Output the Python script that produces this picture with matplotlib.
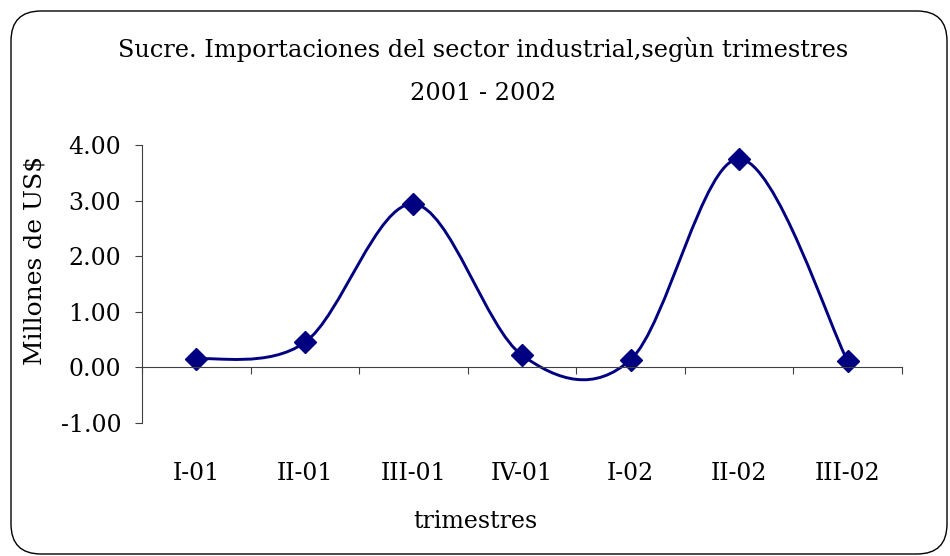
import numpy as np
import matplotlib.pyplot as plt
from matplotlib.path import Path
from matplotlib.patches import PathPatch, FancyBboxPatch
from matplotlib.transforms import IdentityTransform

trimestres = ["I-01", "II-01", "III-01", "IV-01", "I-02", "II-02", "III-02"]
importaciones = [0.15, 0.45, 2.94, 0.22, 0.14, 3.75, 0.11]  # millones de US$

plt.rcParams['font.family'] = ['DejaVu Serif']
navy = '#000080'

fig = plt.figure(figsize=(9.5, 5.56), dpi=100)
ax = fig.add_axes([0.1495, 0.2392, 0.8, 0.5])

# smoothed line like Excel (bezier through the points)
x = np.arange(len(importaciones), dtype=float)
y = np.array(importaciones)
px = np.concatenate([[x[0]], x, [x[-1]]])
py = np.concatenate([[y[0]], y, [y[-1]]])
verts = [(x[0], y[0])]
codes = [Path.MOVETO]
for i in range(len(x) - 1):
    j = i + 1
    c1 = (px[j] + (px[j + 1] - px[j - 1]) / 6, py[j] + (py[j + 1] - py[j - 1]) / 6)
    c2 = (px[j + 1] - (px[j + 2] - px[j]) / 6, py[j + 1] - (py[j + 2] - py[j]) / 6)
    verts += [c1, c2, (x[j], y[j])]
    codes += [Path.CURVE4] * 3
ax.add_patch(PathPatch(Path(verts, codes), facecolor='none', edgecolor=navy, lw=2.1))
ax.plot(x, y, linestyle='none', marker='D', markersize=11, color=navy)

ax.set_xlim(-0.5, 6.5)
ax.set_ylim(-1, 4)
for s in ['top', 'right']:
    ax.spines[s].set_visible(False)
ax.spines['bottom'].set_position(('data', 0))
for s in ['left', 'bottom']:
    ax.spines[s].set_color('#404040')
    ax.spines[s].set_linewidth(0.8)

ax.set_yticks([-1, 0, 1, 2, 3, 4])
ax.set_yticklabels(['%.2f' % v for v in [-1, 0, 1, 2, 3, 4]])
ax.tick_params(axis='y', length=5, width=0.8, color='#404040', pad=10, labelsize=17)

ax.set_xticks(x)
ax.set_xticklabels(trimestres)
ax.set_xticks(np.arange(-0.5, 7, 1), minor=True)
ax.tick_params(axis='x', which='major', length=0, pad=68, labelsize=17)
ax.tick_params(axis='x', which='minor', length=5, width=0.8, color='#404040')

fig.text(483 / 950, 1 - 50 / 556, 'Sucre. Importaciones del sector industrial,segùn trimestres',
         ha='center', va='center', fontsize=17.3)
fig.text(483 / 950, 1 - 93 / 556, '2001 - 2002', ha='center', va='center', fontsize=17.3)
fig.text(35 / 950, 1 - 260 / 556, 'Millones de US$', rotation=90, ha='center', va='center', fontsize=18)
fig.text(475 / 950, 1 - 521 / 556, 'trimestres', ha='center', va='center', fontsize=17)

frame = FancyBboxPatch((11, 2), 936, 543, boxstyle='round,pad=0,rounding_size=30',
                       transform=IdentityTransform(), facecolor='none', edgecolor='black', lw=1.0)
fig.patches.append(frame)

fig.savefig('out.png', dpi=100)
